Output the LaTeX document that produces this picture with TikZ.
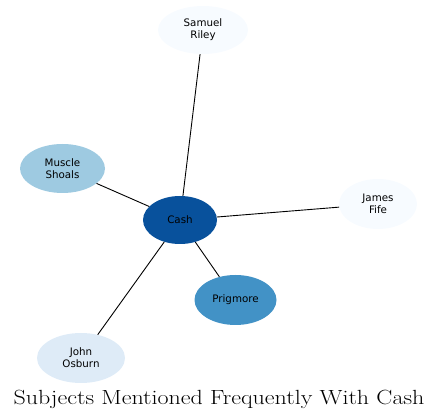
\documentclass[tikz,border=0pt]{standalone}
\usepackage{fontspec}
\newfontfamily\nodefont{DejaVu Sans}
\usetikzlibrary{shapes.geometric}
\definecolor{c0}{HTML}{F7FBFF}
\definecolor{c1}{HTML}{DEEBF7}
\definecolor{c2}{HTML}{9ECAE1}
\definecolor{c3}{HTML}{4292C6}
\definecolor{c4}{HTML}{08519C}
\tikzset{
  ent/.style={ellipse, inner sep=0pt, align=center,
    font=\nodefont\fontsize{10.3}{12}\selectfont, text=black},
  link/.style={draw=black, line width=0.9pt}
}
\begin{document}
\begin{tikzpicture}[x=1pt,y=-1pt]
\useasboundingbox (0,0) rectangle (437,419);
\node[ent, fill=c4, minimum width=74pt, minimum height=48pt] (cash) at (180,220) {Cash};
\node[ent, fill=c0, minimum width=90pt, minimum height=48pt] (riley) at (203,30) {Samuel\\Riley};
\node[ent, fill=c2, minimum width=85pt, minimum height=49pt] (shoals) at (62.5,168.5) {Muscle\\Shoals};
\node[ent, fill=c0, minimum width=78pt, minimum height=50pt] (fife) at (378,204) {James\\Fife};
\node[ent, fill=c3, minimum width=82pt, minimum height=50pt] (prig) at (235.5,300) {Prigmore};
\node[ent, fill=c1, minimum width=88pt, minimum height=50pt] (osburn) at (81,358) {John\\Osburn};
\draw[link] (cash) -- (riley);
\draw[link] (cash) -- (shoals);
\draw[link] (cash) -- (fife);
\draw[link] (cash) -- (prig);
\draw[link] (cash) -- (osburn);
\node[anchor=base, font=\fontsize{20.5}{24}\selectfont, inner sep=0pt] (title) at (219,405) {\scalebox{1.17}[1]{Subjects Mentioned Frequently With Cash}};
\end{tikzpicture}
\end{document}
